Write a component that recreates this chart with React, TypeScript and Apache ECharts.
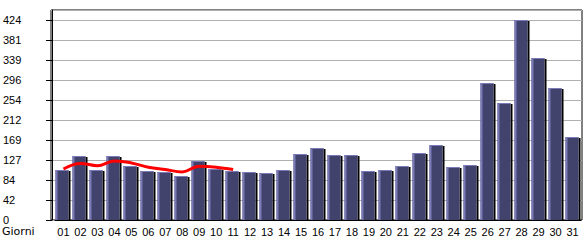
import React, { useEffect, useRef } from "react";
import * as echarts from "echarts";

const days = ["01","02","03","04","05","06","07","08","09","10","11","12","13","14","15","16","17","18","19","20","21","22","23","24","25","26","27","28","29","30","31"];
const visits = [107,135,105,135,114,103,101,93,126,108,104,102,100,105,140,152,138,138,103,107,114,143,159,112,116,290,247,425,343,279,175];
const trend = [108,120,115,125,121,112,107,102,114,112,107];
const yTicks = [0,42.4,84.8,127.2,169.6,212,254.4,296.8,339.2,381.6,424];
const yMax = 445.2;
const yStep = 42.4;

export default function App() {
  const ref = useRef<HTMLDivElement>(null);
  useEffect(() => {
    if (!ref.current) return;
    const chart = echarts.init(ref.current, null, { renderer: "svg" });
    const numFont = { fontFamily: "Liberation Sans", fontSize: 11, lineHeight: 11, color: "#000" };
    chart.setOption({
      animation: false,
      grid: [
        { left: 54, right: 4, top: 10, bottom: 20, show: false },
        { left: 51, right: 3, top: 10, bottom: 20, show: true, borderColor: "#000", borderWidth: 1, backgroundColor: "transparent" },
      ],
      xAxis: [
        {
          type: "category", gridIndex: 0, data: days,
          axisLine: { lineStyle: { color: "#000", width: 1 } },
          axisTick: { alignWithLabel: true, length: 5, lineStyle: { color: "#000" } },
          axisLabel: { ...numFont, margin: 6, interval: 0 },
          splitLine: { show: false },
        },
        { type: "value", gridIndex: 1, show: false, min: 0, max: 1 },
      ],
      yAxis: [
        {
          type: "value", gridIndex: 0, min: 0, max: yMax, interval: yStep, offset: 3,
          axisLine: { show: true, lineStyle: { color: "#000", width: 1 } },
          axisTick: { show: true, length: 6, customValues: yTicks, lineStyle: { color: "#000" } },
          axisLabel: {
            ...numFont, customValues: yTicks, align: "left", margin: 49,
            formatter: (v: number) => String(Math.floor(v + 1e-6)),
          },
          splitLine: { show: false },
        },
        {
          type: "value", gridIndex: 1, min: 0, max: yMax, interval: yStep,
          axisLine: { show: false }, axisTick: { show: false }, axisLabel: { show: false },
          splitLine: { show: true, lineStyle: { color: "#b0b0b0", width: 1 } },
        },
      ],
      graphic: [
        { type: "text", left: 2, top: 226, style: { text: "Giorni", fontFamily: "DejaVu Sans", fontSize: 11, lineHeight: 11, fill: "#000" } },
      ],
      series: [
        {
          type: "custom", xAxisIndex: 0, yAxisIndex: 0,
          data: visits.map((v, i) => [i, v]),
          renderItem: (params: any, api: any) => {
            const i = api.value(0);
            const v = api.value(1);
            const top = api.coord([i, v]);
            const base = api.coord([i, 0]);
            const cx = Math.round(top[0]);
            const ty = Math.round(top[1]);
            const by = Math.round(base[1]);
            const h = by - ty;
            return {
              type: "group",
              children: [
                { type: "rect", shape: { x: cx + 5.5, y: ty + 1, width: 2, height: h - 1 }, style: { fill: "#000" } },
                { type: "rect", shape: { x: cx - 7.5, y: ty, width: 13, height: h }, style: { fill: "#42436c" } },
                { type: "rect", shape: { x: cx - 7.5, y: ty, width: 2, height: h }, style: { fill: "#7a7ab8" } },
                { type: "rect", shape: { x: cx - 7.5, y: ty, width: 13, height: 1 }, style: { fill: "#7a7ab8" } },
              ],
            };
          },
          z: 2,
        },
        {
          type: "line", xAxisIndex: 0, yAxisIndex: 0, data: trend, smooth: 0.4,
          showSymbol: false, symbol: "none",
          lineStyle: { color: "#ff0000", width: 3 }, z: 3,
        },
      ],
    });
    return () => chart.dispose();
  }, []);
  return <div ref={ref} style={{ position: "fixed", left: 0, top: 0, width: 585, height: 240, background: "#fff" }} />;
}
